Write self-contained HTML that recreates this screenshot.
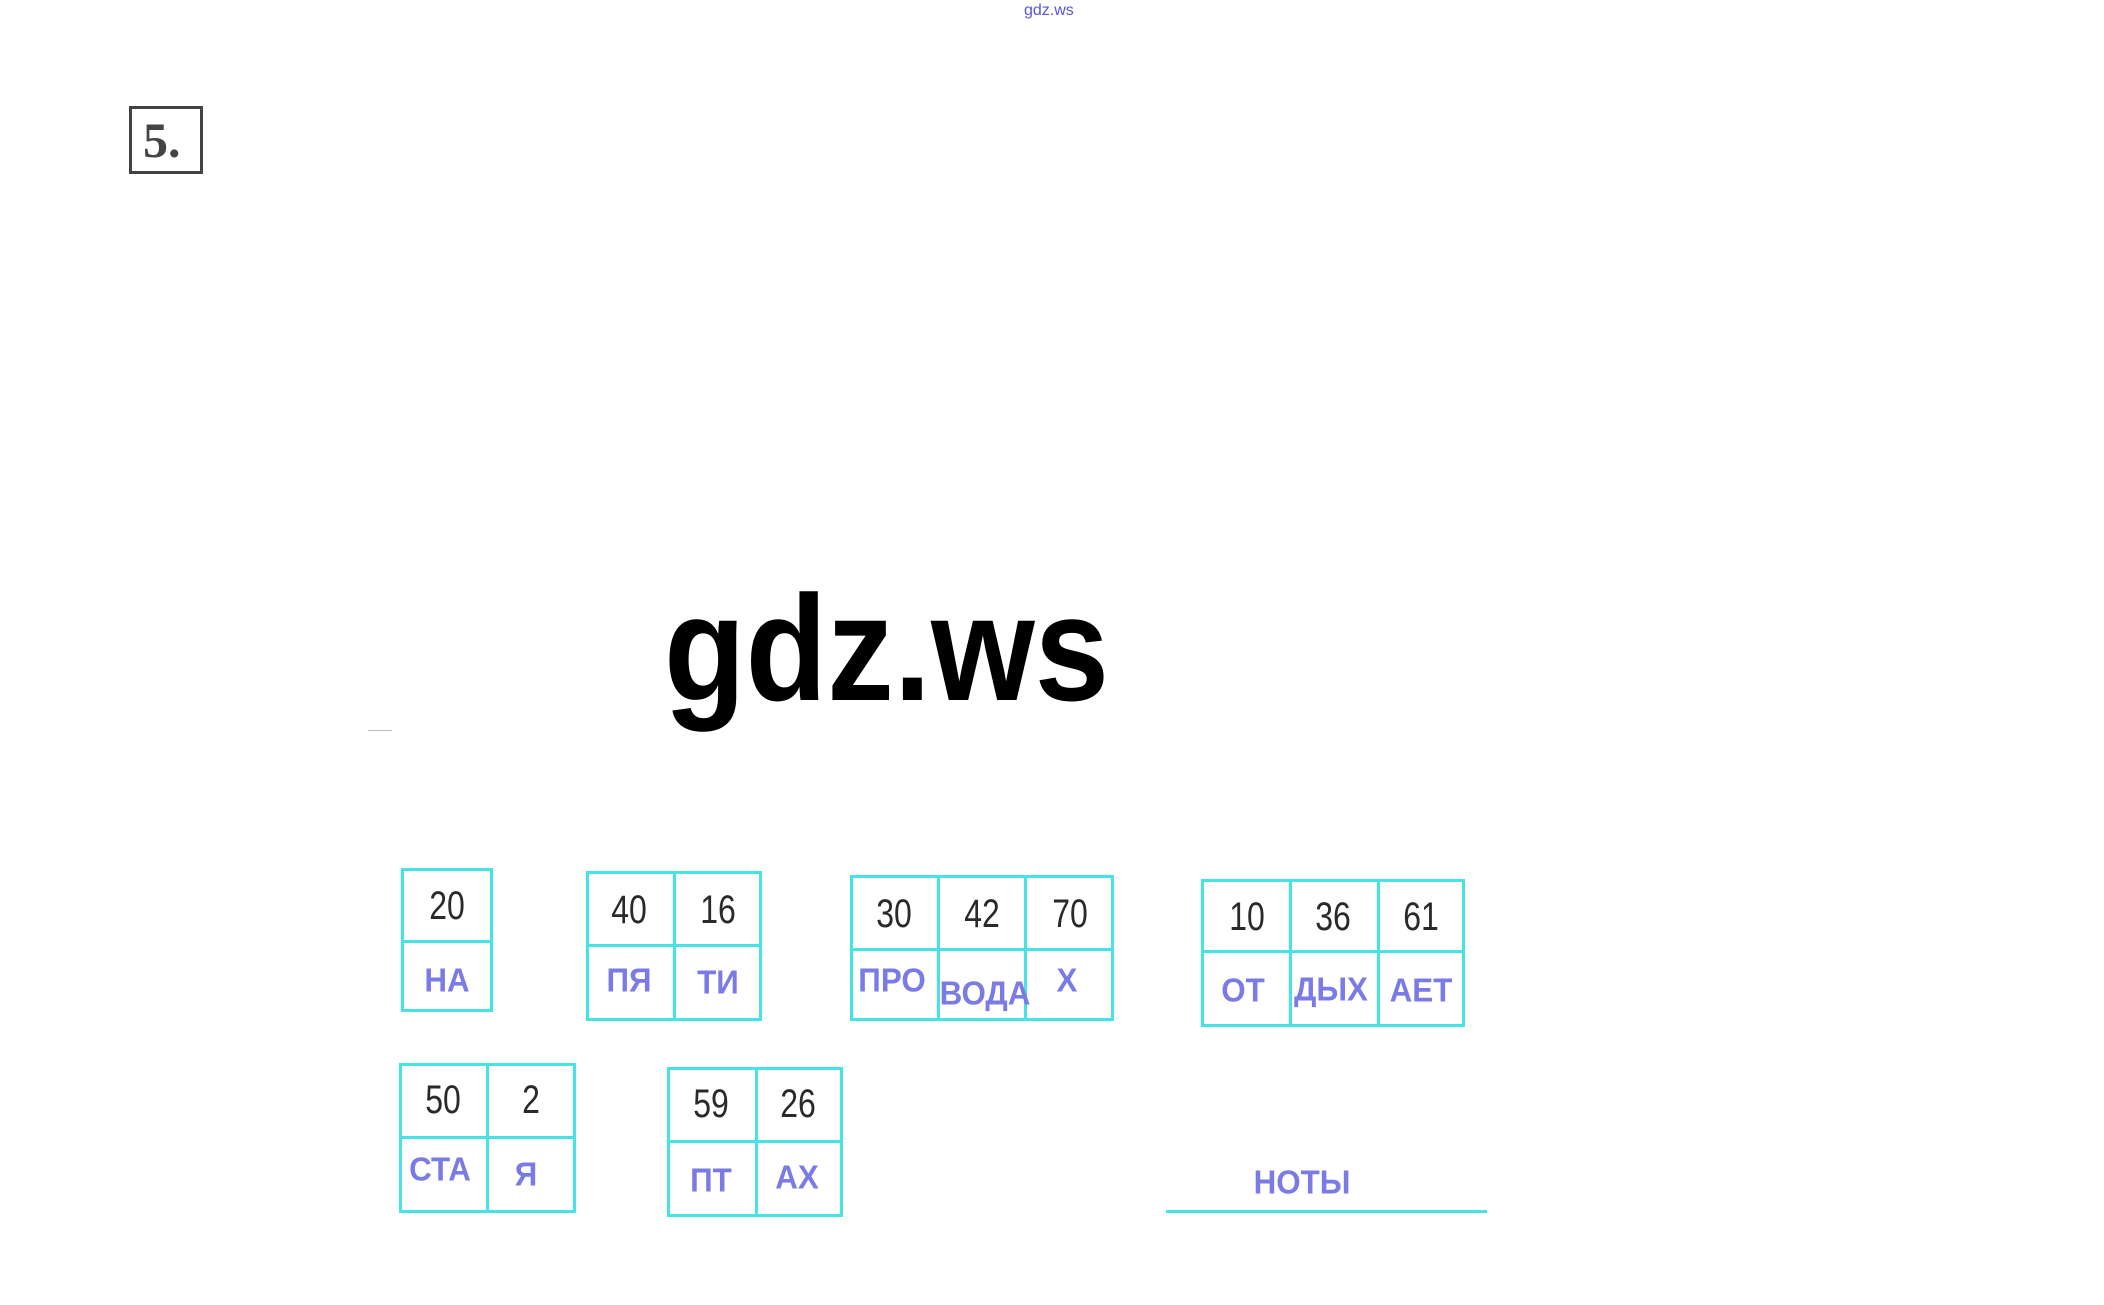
<!DOCTYPE html>
<html><head><meta charset="utf-8"><style>
html,body{margin:0;padding:0;background:#fff;}
body{width:2104px;height:1305px;position:relative;overflow:hidden;font-family:"Liberation Sans",sans-serif;}
.a{position:absolute;}
.b{position:absolute;border:3px solid #45e2e6;box-sizing:border-box;}
.h{position:absolute;height:3px;background:#45e2e6;}
.v{position:absolute;width:3px;background:#45e2e6;}
.n{position:absolute;transform:translate(-50%,-50%) scaleX(0.8);font-size:40px;color:#2a2a2a;line-height:1;}
.l{position:absolute;transform:translate(-50%,-50%) scaleX(0.95);font-size:33px;font-weight:bold;color:#7b7be6;line-height:1;white-space:nowrap;}
</style></head><body>
<div class="a" style="left:1024px;top:2px;font-size:16px;color:#5555dd;">gdz.ws</div>
<div class="b" style="left:129px;top:106px;width:74px;height:68px;border-color:#444;"></div>
<div class="a" style="left:143px;top:112px;font-family:'Liberation Serif',serif;font-size:50px;font-weight:bold;color:#444;line-height:56px;">5.</div>
<div class="a" style="left:664px;top:573px;font-size:150px;font-weight:bold;color:#000;line-height:1;transform:scaleX(0.89);transform-origin:left top;">gdz.ws</div>
<div class="h" style="left:368px;top:730px;width:24px;height:1px;background:#bbb;"></div>

<div class="b" style="left:401px;top:868px;width:92px;height:144px;"></div>
<div class="h" style="left:401px;top:940px;width:92px;"></div>

<div class="b" style="left:586px;top:871px;width:176px;height:150px;"></div>
<div class="h" style="left:586px;top:944px;width:176px;"></div>
<div class="v" style="left:673px;top:871px;height:150px;"></div>

<div class="b" style="left:850px;top:875px;width:264px;height:146px;"></div>
<div class="h" style="left:850px;top:948px;width:264px;"></div>
<div class="v" style="left:937px;top:875px;height:146px;"></div>
<div class="v" style="left:1024px;top:875px;height:146px;"></div>

<div class="b" style="left:1201px;top:879px;width:264px;height:148px;"></div>
<div class="h" style="left:1201px;top:950px;width:264px;"></div>
<div class="v" style="left:1289px;top:879px;height:148px;"></div>
<div class="v" style="left:1377px;top:879px;height:148px;"></div>

<div class="b" style="left:399px;top:1063px;width:177px;height:150px;"></div>
<div class="h" style="left:399px;top:1136px;width:177px;"></div>
<div class="v" style="left:486px;top:1063px;height:150px;"></div>

<div class="b" style="left:667px;top:1067px;width:176px;height:150px;"></div>
<div class="h" style="left:667px;top:1140px;width:176px;"></div>
<div class="v" style="left:755px;top:1067px;height:150px;"></div>

<div class="h" style="left:1166px;top:1210px;width:321px;"></div>

<div class="n" style="left:447px;top:906px;">20</div>
<div class="l" style="left:447px;top:980px;">НА</div>
<div class="n" style="left:629px;top:910px;">40</div>
<div class="n" style="left:718px;top:910px;">16</div>
<div class="l" style="left:629px;top:980px;">ПЯ</div>
<div class="l" style="left:718px;top:982px;">ТИ</div>
<div class="n" style="left:894px;top:914px;">30</div>
<div class="n" style="left:982px;top:914px;">42</div>
<div class="n" style="left:1070px;top:914px;">70</div>
<div class="l" style="left:892px;top:980px;">ПРО</div>
<div class="l" style="left:985px;top:993px;">ВОДА</div>
<div class="l" style="left:1067px;top:980px;">Х</div>
<div class="n" style="left:1247px;top:917px;">10</div>
<div class="n" style="left:1333px;top:917px;">36</div>
<div class="n" style="left:1421px;top:917px;">61</div>
<div class="l" style="left:1243px;top:990px;">ОТ</div>
<div class="l" style="left:1331px;top:989px;">ДЫХ</div>
<div class="l" style="left:1421px;top:990px;">АЕТ</div>
<div class="n" style="left:443px;top:1100px;">50</div>
<div class="n" style="left:531px;top:1100px;">2</div>
<div class="l" style="left:440px;top:1169px;">СТА</div>
<div class="l" style="left:526px;top:1174px;">Я</div>
<div class="n" style="left:711px;top:1104px;">59</div>
<div class="n" style="left:798px;top:1104px;">26</div>
<div class="l" style="left:711px;top:1180px;">ПТ</div>
<div class="l" style="left:797px;top:1177px;">АХ</div>
<div class="l" style="left:1302px;top:1182px;">НОТЫ</div>
</body></html>
